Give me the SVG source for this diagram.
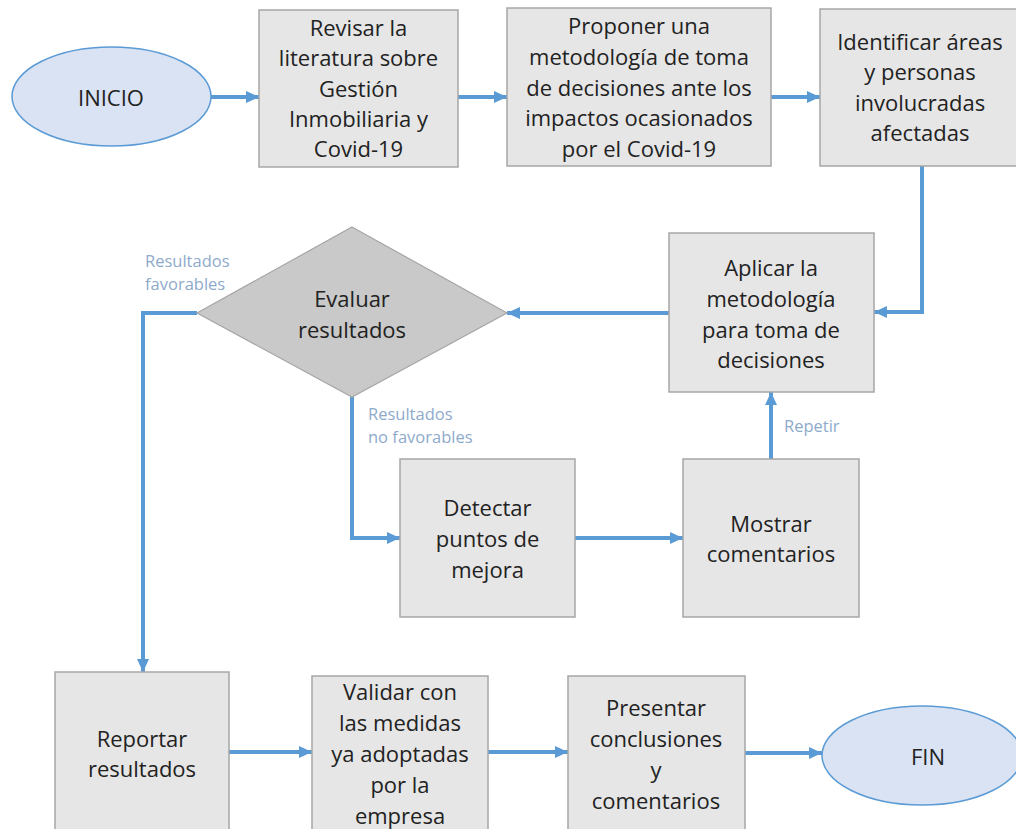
<svg xmlns="http://www.w3.org/2000/svg" width="1016" height="829" viewBox="0 0 1016 829">
  <style>
    .box { fill: #e6e6e6; stroke: #a6a6a6; stroke-width: 1.5; }
    .term { fill: #dae3f3; stroke: #5b9bd5; stroke-width: 1.5; }
    .dec { fill: #c9c9c9; stroke: #a6a6a6; stroke-width: 1.2; }
    .t { font-family: "Open Sans", "Liberation Sans", sans-serif; font-size: 22px; fill: #222; text-anchor: middle; dominant-baseline: central; }
    .lbl { font-family: "Open Sans", "Liberation Sans", sans-serif; font-size: 16.5px; fill: #8eaacb; dominant-baseline: central; }
    .conn { fill: none; stroke: #5b9bd5; stroke-width: 4; marker-end: url(#ah); }
  </style>
  <defs>
    <marker id="ah" markerUnits="userSpaceOnUse" markerWidth="14" markerHeight="14" refX="13" refY="7" orient="auto">
      <path d="M0,1 L13,7 L0,13 Z" fill="#5b9bd5"/>
    </marker>
  </defs>
  <rect width="1016" height="829" fill="#ffffff"/>

  <g id="connectors">
    <path class="conn" d="M211,97 H259"/>
    <path class="conn" d="M458,97 H507"/>
    <path class="conn" d="M771,97 H820"/>
    <path class="conn" d="M922,166 V312 H874"/>
    <path class="conn" d="M669,313 H507"/>
    <path class="conn" d="M197,313 H143 V672"/>
    <path class="conn" d="M352,397 V538 H400"/>
    <path class="conn" d="M575,538 H683"/>
    <path class="conn" d="M771,459 V392"/>
    <path class="conn" d="M229,752 H312"/>
    <path class="conn" d="M488,752 H568"/>
    <path class="conn" d="M745,753 H822"/>
    <text class="lbl" x="145" y="260">Resultados</text>
    <text class="lbl" x="145" y="283">favorables</text>
    <text class="lbl" x="368" y="413">Resultados</text>
    <text class="lbl" x="368" y="436">no favorables</text>
    <text class="lbl" x="784" y="425">Repetir</text>
  </g>

  <g id="inicio">
    <ellipse class="term" cx="111.5" cy="96.5" rx="99.5" ry="49.5"/>
    <text class="t" x="111" y="97">INICIO</text>
  </g>

  <g id="revisar">
    <rect class="box" x="259" y="10" width="199" height="157"/>
    <text class="t" x="358.5" y="27">Revisar la</text>
    <text class="t" x="358.5" y="57">literatura sobre</text>
    <text class="t" x="358.5" y="88">Gestión</text>
    <text class="t" x="358.5" y="118">Inmobiliaria y</text>
    <text class="t" x="358.5" y="148">Covid-19</text>
  </g>

  <g id="proponer">
    <rect class="box" x="507" y="8" width="264" height="158"/>
    <text class="t" x="639" y="25">Proponer una</text>
    <text class="t" x="639" y="56">metodología de toma</text>
    <text class="t" x="639" y="87">de decisiones ante los</text>
    <text class="t" x="639" y="117">impactos ocasionados</text>
    <text class="t" x="639" y="148">por el Covid-19</text>
  </g>

  <g id="identificar">
    <rect class="box" x="820" y="9" width="202" height="157"/>
    <text class="t" x="920" y="41">Identificar áreas</text>
    <text class="t" x="920" y="71">y personas</text>
    <text class="t" x="920" y="102">involucradas</text>
    <text class="t" x="920" y="132">afectadas</text>
  </g>

  <g id="aplicar">
    <rect class="box" x="669" y="233" width="205" height="159"/>
    <text class="t" x="771" y="267">Aplicar la</text>
    <text class="t" x="771" y="298">metodología</text>
    <text class="t" x="771" y="329">para toma de</text>
    <text class="t" x="771" y="359">decisiones</text>
  </g>

  <g id="evaluar">
    <polygon class="dec" points="352,227 507,313 352,397 197,313"/>
    <text class="t" x="352" y="298">Evaluar</text>
    <text class="t" x="352" y="329">resultados</text>
  </g>

  <g id="detectar">
    <rect class="box" x="400" y="459" width="175" height="158"/>
    <text class="t" x="487.5" y="507">Detectar</text>
    <text class="t" x="487.5" y="538">puntos de</text>
    <text class="t" x="487.5" y="569">mejora</text>
  </g>

  <g id="mostrar">
    <rect class="box" x="683" y="459" width="176" height="158"/>
    <text class="t" x="771" y="523">Mostrar</text>
    <text class="t" x="771" y="553">comentarios</text>
  </g>

  <g id="reportar">
    <rect class="box" x="55" y="672" width="174" height="170"/>
    <text class="t" x="142" y="738">Reportar</text>
    <text class="t" x="142" y="768">resultados</text>
  </g>

  <g id="validar">
    <rect class="box" x="312" y="676" width="176" height="170"/>
    <text class="t" x="400" y="691">Validar con</text>
    <text class="t" x="400" y="722">las medidas</text>
    <text class="t" x="400" y="753">ya adoptadas</text>
    <text class="t" x="400" y="784">por la</text>
    <text class="t" x="400" y="815">empresa</text>
  </g>

  <g id="presentar">
    <rect class="box" x="568" y="676" width="177" height="170"/>
    <text class="t" x="656" y="707">Presentar</text>
    <text class="t" x="656" y="738">conclusiones</text>
    <text class="t" x="656" y="769">y</text>
    <text class="t" x="656" y="800">comentarios</text>
  </g>

  <g id="fin">
    <ellipse class="term" cx="922" cy="755.5" rx="100" ry="49.5"/>
    <text class="t" x="928" y="756">FIN</text>
  </g>
</svg>
